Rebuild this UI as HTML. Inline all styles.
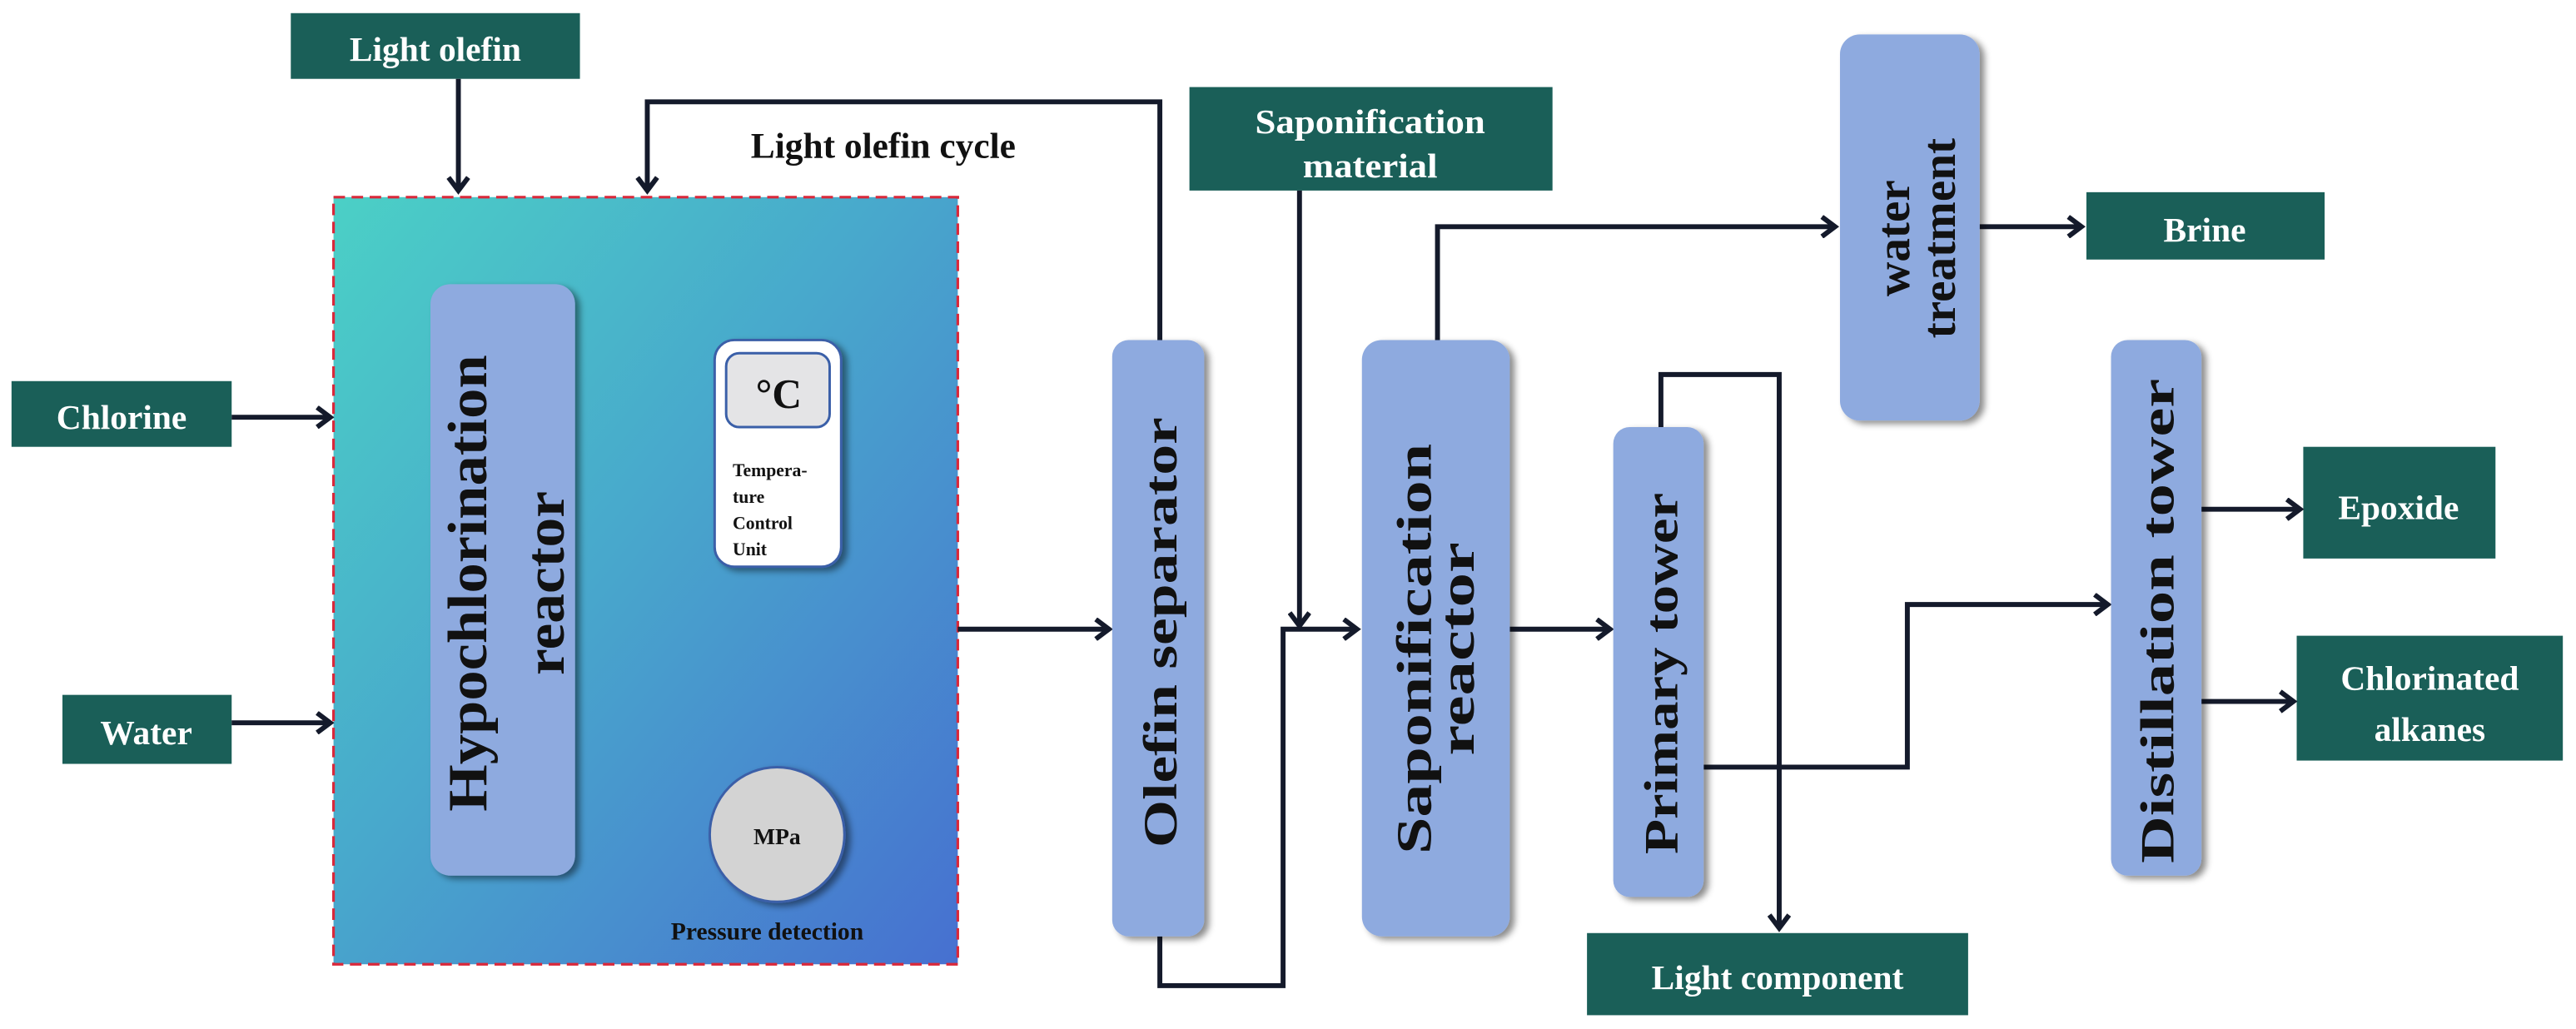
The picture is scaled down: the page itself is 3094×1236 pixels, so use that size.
<!DOCTYPE html>
<html><head><meta charset="utf-8"><style>
html,body{margin:0;padding:0;background:#fff;}
svg{display:block;}
text{font-family:"Liberation Serif",serif;font-weight:bold;}
</style></head><body>
<svg width="3094" height="1236" viewBox="0 0 1568 626.4" xmlns="http://www.w3.org/2000/svg">
<defs>
<linearGradient id="g" x1="0" y1="0" x2="1" y2="1">
<stop offset="0" stop-color="#4bd0c6"/><stop offset="0.45" stop-color="#48a8cc"/><stop offset="1" stop-color="#4770d0"/>
</linearGradient>
<marker id="a" markerWidth="14" markerHeight="14" refX="10" refY="7" orient="auto" markerUnits="userSpaceOnUse">
<polyline points="2,1 10,7 2,13" fill="none" stroke="#141a2b" stroke-width="3"/>
</marker>
<filter id="sh" x="-20%" y="-10%" width="150%" height="130%">
<feDropShadow dx="3" dy="2" stdDeviation="2" flood-color="#000" flood-opacity="0.45"/>
</filter>
</defs>
<rect width="1568" height="626.4" fill="#fff"/>

<rect x="203" y="120" width="380" height="467" fill="url(#g)" stroke="#d9283a" stroke-width="1.6" stroke-dasharray="7,4"/>

<g fill="#1a5f58">
<rect x="177" y="8" width="176" height="40"/>
<rect x="7" y="232" width="134" height="40"/>
<rect x="38" y="423" width="103" height="42"/>
<rect x="724" y="53" width="221" height="63"/>
<rect x="1270" y="117" width="145" height="41"/>
<rect x="1402" y="272" width="117" height="68"/>
<rect x="1398" y="387" width="162" height="76"/>
<rect x="966" y="568" width="232" height="50"/>
</g>
<g fill="#fff" font-size="21" text-anchor="middle">
<text x="265" y="37">Light olefin</text>
<text x="74" y="261">Chlorine</text>
<text x="89" y="453">Water</text>
<text x="834" y="81" font-size="21" textLength="140" lengthAdjust="spacingAndGlyphs">Saponification</text>
<text x="834" y="108" font-size="21" textLength="82" lengthAdjust="spacingAndGlyphs">material</text>
<text x="1342" y="147">Brine</text>
<text x="1460" y="316">Epoxide</text>
<text x="1479" y="420">Chlorinated</text>
<text x="1479" y="451">alkanes</text>
<text x="1082" y="602">Light component</text>
</g>

<text x="457" y="96" font-size="22" fill="#111">Light olefin cycle</text>

<g fill="none" stroke="#141a2b" stroke-width="3">
<line x1="279" y1="48" x2="279" y2="116" marker-end="url(#a)"/>
<polyline points="706,207 706,62 394,62 394,116" marker-end="url(#a)"/>
<line x1="141" y1="254" x2="201" y2="254" marker-end="url(#a)"/>
<line x1="141" y1="440" x2="201" y2="440" marker-end="url(#a)"/>
<line x1="583" y1="383" x2="675" y2="383" marker-end="url(#a)"/>
<polyline points="706,570 706,600 781,600 781,383 826,383" marker-end="url(#a)"/>
<line x1="791" y1="116" x2="791" y2="381" marker-end="url(#a)"/>
<polyline points="875,207 875,138 1117,138" marker-end="url(#a)"/>
<line x1="1205" y1="138" x2="1267" y2="138" marker-end="url(#a)"/>
<line x1="919" y1="383" x2="980" y2="383" marker-end="url(#a)"/>
<polyline points="1011,260 1011,228 1083,228 1083,565" marker-end="url(#a)"/>
<polyline points="1037,467 1161,467 1161,368 1283,368" marker-end="url(#a)"/>
<line x1="1340" y1="310" x2="1400" y2="310" marker-end="url(#a)"/>
<line x1="1340" y1="427" x2="1396" y2="427" marker-end="url(#a)"/>
</g>

<g fill="#8eaadf" filter="url(#sh)">
<rect x="262" y="173" width="88" height="360" rx="12"/>
<rect x="677" y="207" width="56" height="363" rx="10"/>
<rect x="829" y="207" width="90" height="363" rx="12"/>
<rect x="982" y="260" width="55" height="286" rx="10"/>
<rect x="1120" y="21" width="85" height="235" rx="12"/>
<rect x="1285" y="207" width="55" height="326" rx="10"/>
</g>

<g fill="#111" text-anchor="middle">
<text transform="translate(306,355) rotate(-90)" font-size="34"><tspan x="0" y="-10" textLength="278" lengthAdjust="spacingAndGlyphs">Hypochlorination</tspan><tspan x="0" y="37" textLength="112" lengthAdjust="spacingAndGlyphs">reactor</tspan></text>
<text transform="translate(705,385) rotate(-90)" font-size="29"><tspan x="0" y="11" textLength="262" lengthAdjust="spacingAndGlyphs">Olefin separator</tspan></text>
<text transform="translate(874,395) rotate(-90)" font-size="30"><tspan x="0" y="-3" textLength="250" lengthAdjust="spacingAndGlyphs">Saponification</tspan><tspan x="0" y="23" textLength="130" lengthAdjust="spacingAndGlyphs">reactor</tspan></text>
<text transform="translate(1010,410) rotate(-90)" font-size="29"><tspan x="0" y="11" textLength="220" lengthAdjust="spacingAndGlyphs">Primary tower</tspan></text>
<text transform="translate(1312,378) rotate(-90)" font-size="29"><tspan x="0" y="11" textLength="295" lengthAdjust="spacingAndGlyphs">Distillation tower</tspan></text>
<text transform="translate(1165,145) rotate(-90)" font-size="29"><tspan x="0" y="-3">water</tspan><tspan x="0" y="25">treatment</tspan></text>
</g>

<rect x="435" y="207" width="77" height="138" rx="12" fill="#fff" stroke="#3a5fa8" stroke-width="1.5" filter="url(#sh)"/>
<rect x="442" y="215" width="63" height="45" rx="8" fill="#e4e4e6" stroke="#3a5fa8" stroke-width="1.5"/>
<text x="474" y="248" font-size="25" text-anchor="middle" fill="#111">°C</text>
<g font-size="11" fill="#111">
<text x="446" y="290">Tempera-</text>
<text x="446" y="306">ture</text>
<text x="446" y="322">Control</text>
<text x="446" y="338">Unit</text>
</g>

<circle cx="473" cy="508" r="41" fill="#d3d3d3" stroke="#3a5fa8" stroke-width="1.5" filter="url(#sh)"/>
<text x="473" y="514" font-size="14" text-anchor="middle" fill="#111">MPa</text>
<text x="467" y="572" font-size="15" text-anchor="middle" fill="#111">Pressure detection</text>
</svg>
</body></html>
